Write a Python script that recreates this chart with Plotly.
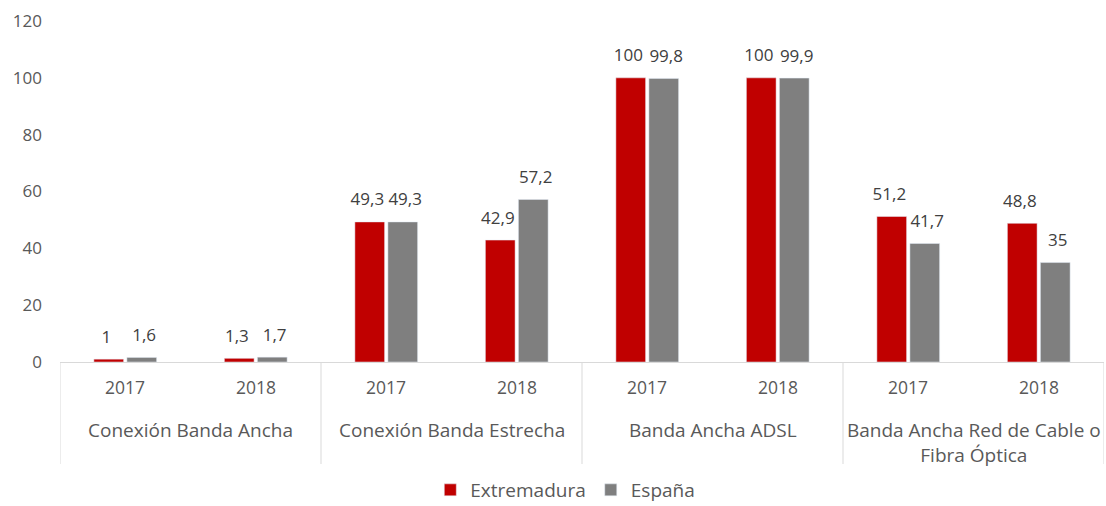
import plotly.graph_objects as go

# Indicator groups and years
groups = ["Conexión Banda Ancha", "Conexión Banda Estrecha",
          "Banda Ancha ADSL", "Banda Ancha Red de Cable o<br>Fibra Óptica"]
years = ["2017", "2018"]

# Percentages per region, ordered group by group, year by year
extremadura = [1, 1.3, 49.3, 42.9, 100, 100, 51.2, 48.8]
espana = [1.6, 1.7, 49.3, 57.2, 99.8, 99.9, 41.7, 35]

# One category per (group, year) pair
keys = [f"{g}|{y}" for g in groups for y in years]
year_of_key = [y for _ in groups for y in years]

FONT = "Open Sans, sans-serif"
AXIS_COLOR = "#595959"
LABEL_COLOR = "#404040"
LINE_COLOR = "#d9d9d9"
RED = "#c00000"
GREY = "#7f7f7f"

W, H = 1106, 506
M = dict(l=60, r=2, t=21, b=144, autoexpand=False)
plot_h = H - M["t"] - M["b"]
bottom_px = H - M["b"]


def paper_y(px):
    """Pixel row (from top of page) -> paper y coordinate."""
    return (bottom_px - px) / plot_h


def fmt(v):
    return f"{v:g}".replace(".", ",")


BARGAP = 0.494
LABELGAP = 0.42  # value labels sit a little wider apart than the bars

fig = go.Figure()
for name, vals, color in [("Extremadura", extremadura, RED),
                          ("España", espana, GREY)]:
    fig.add_trace(go.Bar(
        name=name, x=keys, y=vals, marker_color=color,
        offsetgroup=name, hoverinfo="skip",
    ))
# Value labels, grouped the same way as the bars
for name, vals in [("Extremadura", extremadura), ("España", espana)]:
    fig.add_trace(go.Scatter(
        x=keys, y=vals, mode="markers+text", offsetgroup=name,
        text=[fmt(v) for v in vals], textposition="top center",
        textfont=dict(size=17, color=LABEL_COLOR, family=FONT),
        marker=dict(size=18, color="rgba(0,0,0,0)"),
        showlegend=False, hoverinfo="skip", cliponaxis=False,
    ))

annotations = []
# Year labels under each pair of bars
for k, y in zip(keys, year_of_key):
    annotations.append(dict(
        x=k, y=paper_y(387), xref="x", yref="paper", text=y,
        showarrow=False, yanchor="middle",
        font=dict(size=17.5, color=AXIS_COLOR, family=FONT),
    ))
# Group labels and separators
n_years = len(years)
shapes = []
for i, g in enumerate(groups):
    mid = i * n_years + (n_years - 1) / 2
    annotations.append(dict(
        x=mid, y=paper_y(415), xref="x", yref="paper", text=g,
        showarrow=False, yanchor="top", align="center",
        font=dict(size=19, color=AXIS_COLOR, family=FONT),
    ))
for i in range(len(groups) + 1):
    xd = i * n_years - 0.5
    shapes.append(dict(
        type="line", xref="x", yref="paper", x0=xd, x1=xd,
        y0=0, y1=paper_y(464), line=dict(color=LINE_COLOR, width=1),
    ))

fig.update_layout(
    width=W, height=H, margin=M,
    paper_bgcolor="white", plot_bgcolor="white",
    barmode="group", bargap=BARGAP, bargroupgap=0.1,
    scattermode="group", scattergap=LABELGAP,
    font=dict(family=FONT, size=17, color=AXIS_COLOR),
    showlegend=True,
    legend=dict(orientation="h", x=0.484, xanchor="center",
                y=paper_y(509), yanchor="bottom",
                font=dict(size=19, color=AXIS_COLOR, family=FONT),
                traceorder="normal"),
    annotations=annotations, shapes=shapes,
)
fig.update_yaxes(
    range=[0, 120], dtick=20, showgrid=False, zeroline=False,
    showline=False, ticks="", ticklabelstandoff=17,
    tickfont=dict(size=17, color=AXIS_COLOR),
)
fig.update_xaxes(
    type="category", range=[-0.5, len(keys) - 0.5],
    showline=True, linecolor=LINE_COLOR, linewidth=1,
    showticklabels=False, ticks="", showgrid=False, automargin=False,
)

fig.write_html("out.html")
